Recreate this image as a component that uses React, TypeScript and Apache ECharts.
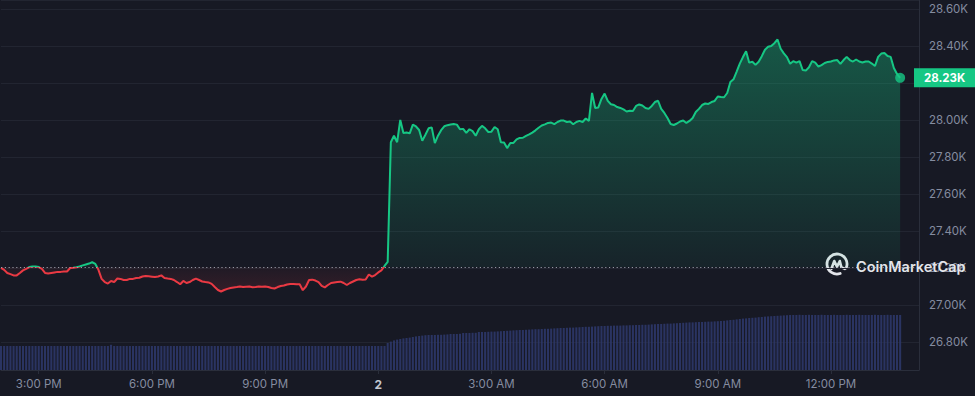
import React, { useEffect, useRef } from 'react';
import * as echarts from 'echarts';

// ---------- data ----------
const BASE_PRICE = 27205; // 24h-ago reference price (dotted line)
const START_MINUTE = 14 * 60; // first point: 2:00 PM on day 1
const STEP_MINUTES = 5;
const SLOT_COUNT = 293; // 287 data points + empty slots up to the axis

const prices = [
  27201, 27190, 27173, 27167, 27160, 27160, 27173, 27187, 27195, 27205,
  27208, 27208, 27205, 27195, 27173, 27170, 27173, 27176, 27179, 27179,
  27181, 27181, 27200, 27201, 27204, 27208, 27214, 27219, 27224, 27231,
  27222, 27190, 27141, 27124, 27116, 27130, 27124, 27143, 27141, 27135,
  27135, 27141, 27141, 27146, 27147, 27154, 27157, 27155, 27153, 27151,
  27154, 27160, 27146, 27143, 27141, 27135, 27124, 27112, 27130, 27119,
  27124, 27135, 27143, 27135, 27127, 27124, 27122, 27114, 27097, 27081,
  27073, 27081, 27087, 27092, 27095, 27097, 27100, 27097, 27099, 27100,
  27096, 27097, 27100, 27099, 27100, 27097, 27092, 27089, 27097, 27103,
  27105, 27111, 27114, 27114, 27112, 27112, 27080, 27100, 27135, 27137,
  27132, 27124, 27103, 27095, 27108, 27119, 27122, 27124, 27126, 27119,
  27108, 27119, 27127, 27135, 27139, 27137, 27138, 27165, 27153, 27162,
  27176, 27187, 27211, 27233, 27880, 27915, 27880, 28000, 27930, 27932,
  27928, 27975, 27965, 27946, 27888, 27920, 27955, 27960, 27875, 27915,
  27945, 27966, 27972, 27976, 27978, 27975, 27950, 27952, 27930, 27950,
  27940, 27915, 27950, 27968, 27955, 27935, 27937, 27962, 27950, 27880,
  27878, 27848, 27876, 27876, 27895, 27903, 27904, 27914, 27922, 27932,
  27944, 27958, 27970, 27976, 27984, 27986, 27978, 27989, 27997, 27997,
  27989, 27992, 27977, 27989, 27995, 27989, 28008, 27995, 28146, 28065,
  28068, 28114, 28143, 28103, 28085, 28081, 28070, 28065, 28057, 28046,
  28050, 28049, 28076, 28084, 28078, 28065, 28060, 28076, 28097, 28104,
  28060, 28038, 28011, 27978, 27973, 27981, 27992, 27997, 27984, 27995,
  28011, 28043, 28060, 28081, 28089, 28087, 28097, 28103, 28127, 28124,
  28123, 28146, 28205, 28220, 28262, 28305, 28340, 28372, 28310, 28315,
  28298, 28315, 28345, 28380, 28396, 28400, 28415, 28435, 28385, 28360,
  28340, 28304, 28318, 28310, 28318, 28270, 28267, 28285, 28318, 28310,
  28289, 28297, 28308, 28314, 28316, 28322, 28324, 28303, 28324, 28341,
  28324, 28316, 28327, 28316, 28311, 28316, 28316, 28305, 28292, 28341,
  28359, 28362, 28346, 28341, 28281, 28249, 28228,
];

// 24h volume (billions USD)
const volumes = [
  6.0, 6.0, 6.0, 6.0, 6.0, 6.0, 6.0, 6.0, 6.0, 6.0,
  6.0, 6.0, 6.0, 6.0, 6.0, 6.0, 6.0, 6.0, 6.0, 6.0,
  6.0, 6.0, 6.0, 6.0, 6.0, 6.0, 6.0, 6.0, 6.0, 6.0,
  6.0, 6.0, 6.0, 6.0, 6.0, 6.3, 6.0, 6.0, 6.0, 6.0,
  6.0, 6.0, 6.0, 6.0, 6.0, 6.0, 6.0, 6.0, 6.0, 6.0,
  6.0, 6.0, 6.0, 6.0, 6.0, 6.0, 6.0, 6.0, 6.0, 6.0,
  6.0, 6.0, 6.0, 6.0, 6.0, 6.0, 6.0, 6.0, 6.0, 6.0,
  6.0, 6.0, 6.0, 6.0, 6.0, 6.0, 6.0, 6.0, 6.0, 6.0,
  6.0, 6.0, 6.0, 6.0, 6.0, 6.0, 6.0, 6.0, 6.0, 6.0,
  6.0, 6.0, 6.0, 6.0, 6.0, 6.0, 6.0, 6.0, 6.0, 6.0,
  6.0, 6.0, 6.0, 6.0, 6.0, 6.0, 6.0, 6.0, 6.0, 6.0,
  6.0, 6.0, 6.0, 6.0, 6.0, 6.0, 6.0, 6.0, 6.0, 6.0,
  6.0, 6.0, 6.0, 6.75, 7.1, 7.4, 7.6, 7.75, 7.9, 8.0,
  8.1, 8.25, 8.4, 8.5, 8.6, 8.7, 8.75, 8.75, 8.75, 8.8,
  8.8, 8.85, 8.9, 9.0, 9.0, 9.0, 9.05, 9.25, 9.25, 9.25,
  9.3, 9.3, 9.5, 9.5, 9.5, 9.55, 9.6, 9.6, 9.65, 9.7,
  9.75, 9.8, 9.85, 9.9, 9.95, 10.0, 10.0, 10.05, 10.1, 10.15,
  10.2, 10.2, 10.25, 10.3, 10.3, 10.35, 10.4, 10.45, 10.5, 10.5,
  10.55, 10.6, 10.6, 10.65, 10.7, 10.75, 10.8, 10.8, 10.85, 10.9,
  10.95, 11.0, 11.0, 11.05, 11.05, 11.1, 11.1, 11.1, 11.15, 11.15,
  11.2, 11.2, 11.25, 11.25, 11.3, 11.3, 11.35, 11.4, 11.45, 11.5,
  11.5, 11.55, 11.6, 11.6, 11.65, 11.7, 11.75, 11.8, 11.85, 11.9,
  11.9, 11.95, 12.0, 12.0, 12.05, 12.1, 12.1, 12.15, 12.2, 12.25,
  12.3, 12.4, 12.5, 12.55, 12.65, 12.75, 12.85, 12.9, 13.0, 13.05,
  13.1, 13.2, 13.25, 13.35, 13.4, 13.45, 13.5, 13.55, 13.6, 13.65,
  13.7, 13.75, 13.75, 13.75, 13.8, 13.75, 13.75, 13.8, 13.75, 13.75,
  13.75, 13.8, 13.75, 13.75, 13.75, 13.8, 13.75, 13.75, 13.75, 13.8,
  13.75, 13.75, 13.75, 13.8, 13.75, 13.75, 13.75, 13.75, 13.8, 13.75,
  13.75, 13.75, 13.8, 13.75, 13.75, 13.75, 13.75,
];

const xTickTimes = ['1 15:00', '1 18:00', '1 21:00', '2 00:00', '2 03:00', '2 06:00', '2 09:00', '2 12:00'];
const xTickLabels = ['3:00 PM', '6:00 PM', '9:00 PM', '2', '3:00 AM', '6:00 AM', '9:00 AM', '12:00 PM'];
const yTickValues = [26800, 27000, 27200, 27400, 27600, 27800, 28000, 28200, 28400, 28600];

// ---------- style ----------
const BG = '#171924';
const GREEN = '#16c784';
const RED = '#ea3943';
const GRID_LINE = '#222531';
const AXIS_LINE = '#2a2e3b';
const LABEL = '#858ca0';
const FONT = 'Inter, "Noto Sans", sans-serif';
const Y_MIN = 26648.6;
const Y_MAX = 28648.6;

const pad = (n: number) => (n < 10 ? '0' + n : '' + n);
const categories: string[] = [];
for (let i = 0; i < SLOT_COUNT; i++) {
  const m = START_MINUTE + i * STEP_MINUTES;
  const day = m >= 1440 ? 2 : 1;
  const mm = m % 1440;
  categories.push(`${day} ${pad(Math.floor(mm / 60))}:${pad(mm % 60)}`);
}

export default function App() {
  const ref = useRef<HTMLDivElement>(null);
  useEffect(() => {
    document.body.style.margin = '0';
    document.body.style.background = BG;
    const chart = echarts.init(ref.current!, undefined, { renderer: 'svg' });
    const last = prices[prices.length - 1];
    const pMax = Math.max(...prices);
    const pMin = Math.min(...prices);
    const baseOffset = (pMax - BASE_PRICE) / (pMax - pMin);
    const isTick = (_i: number, v: string) => xTickTimes.indexOf(v) >= 0;

    const option: any = {
      animation: false,
      backgroundColor: BG,
      textStyle: { fontFamily: FONT },
      grid: [
        { left: 1, right: 56, top: 0, bottom: 26 },
        { left: 1, right: 56, top: 290, bottom: 26 },
      ],
      xAxis: [
        {
          type: 'category', gridIndex: 0, data: categories, boundaryGap: false,
          show: false,
        },
        {
          type: 'category', gridIndex: 1, data: categories, boundaryGap: false,
          axisLine: { show: true, lineStyle: { color: AXIS_LINE, width: 1 } },
          axisTick: { show: true, interval: isTick, length: 4, lineStyle: { color: AXIS_LINE } },
          axisLabel: {
            interval: isTick,
            margin: 8,
            color: LABEL,
            fontSize: 11.5,
            fontFamily: FONT,
            formatter: (v: string) => {
              const k = xTickTimes.indexOf(v);
              if (k < 0) return '';
              const t = xTickLabels[k];
              return t === '2' ? '{d|2}' : t;
            },
            rich: { d: { fontWeight: 'bold', color: '#c4c8d2', fontSize: 12, fontFamily: FONT } },
          },
          splitLine: { show: false },
        },
      ],
      yAxis: [
        {
          type: 'value', gridIndex: 0, position: 'right', min: Y_MIN, max: Y_MAX, splitNumber: 10,
          axisLine: { show: true, lineStyle: { color: AXIS_LINE } },
          axisTick: { show: false },
          splitLine: { show: true, lineStyle: { color: GRID_LINE, width: 1 } },
          axisLabel: {
            showMinLabel: false, showMaxLabel: false,
            margin: 10, color: LABEL, fontSize: 11.5, fontFamily: FONT,
            formatter: (v: number) => {
              const r = Math.round(v);
              if (yTickValues.indexOf(r) < 0 || Math.abs(v - r) > 0.01) return '';
              // the current-price tag covers the tick label next to it
              if (Math.abs(r - last) < 100) return '';
              return (r / 1000).toFixed(2) + 'K';
            },
          },
        },
        {
          type: 'value', gridIndex: 1, min: 0, max: 20, show: false,
        },
      ],
      visualMap: [
        {
          type: 'piecewise', show: false, seriesIndex: 0, dimension: 1,
          pieces: [
            { gte: 20000, lt: BASE_PRICE, color: RED },
            { gte: BASE_PRICE, lte: 40000, color: GREEN },
          ],
          outOfRange: { color: GREEN },
        },
      ],
      series: [
        {
          type: 'line', xAxisIndex: 0, yAxisIndex: 0, data: prices,
          showSymbol: false, symbol: 'none', z: 3,
          lineStyle: { width: 2 },
          areaStyle: {
            origin: BASE_PRICE,
            opacity: 1,
            color: new echarts.graphic.LinearGradient(0, 0, 0, 1, [
              { offset: 0, color: 'rgba(22,199,132,0.36)' },
              { offset: baseOffset - 0.001, color: 'rgba(22,199,132,0.06)' },
              { offset: baseOffset, color: 'rgba(234,57,67,0.04)' },
              { offset: 1, color: 'rgba(234,57,67,0.14)' },
            ]),
          },
          markLine: {
            silent: true, symbol: ['none', 'none'], animation: false,
            data: [
              {
                yAxis: BASE_PRICE,
                lineStyle: { color: '#a3a8b4', type: [1.2, 2.6], width: 1, opacity: 0.9 },
                label: { show: false },
              },
            ],
          },
        },
        {
          type: 'line', xAxisIndex: 0, yAxisIndex: 0, data: [],
          silent: true, z: 6,
          markLine: {
            silent: true, symbol: ['none', 'none'], animation: false,
            data: [
              {
                yAxis: last,
                lineStyle: { color: 'rgba(0,0,0,0)', width: 1, type: 'solid' },
                label: {
                  show: true, position: 'end', distance: -5,
                  formatter: () => (last / 1000).toFixed(2) + 'K',
                  backgroundColor: GREEN, color: '#ffffff', fontWeight: 'bold',
                  fontSize: 11.5, fontFamily: FONT, padding: [4, 16, 3, 10],
                },
              },
            ],
          },
        },
        {
          type: 'scatter', xAxisIndex: 0, yAxisIndex: 0,
          data: [[prices.length - 1, last]],
          symbol: 'circle', symbolSize: 10, z: 5,
          itemStyle: { color: GREEN },
        },
        {
          type: 'bar', xAxisIndex: 1, yAxisIndex: 1, data: volumes,
          barCategoryGap: '35%', z: 1,
          itemStyle: { color: 'rgba(44,54,104,0.92)' },
        },
      ],
      graphic: [
        {
          type: 'group', x: 826, y: 253, z: 100,
          children: [
            {
              type: 'arc',
              shape: { cx: 11, cy: 11, r: 10, startAngle: 1.25, endAngle: 0.4 + Math.PI * 2, clockwise: true },
              style: { stroke: '#e3e5ea', lineWidth: 2.8, fill: 'none', lineCap: 'round' },
            },
            {
              type: 'polyline',
              shape: { points: [[5.4, 15.8], [8.3, 8.0], [11, 13.8], [13.8, 8.0], [15.4, 14.4], [18.8, 15.8]] },
              style: { stroke: '#e3e5ea', lineWidth: 2.6, fill: 'none', lineJoin: 'round', lineCap: 'round' },
            },
          ],
        },
        {
          type: 'text', x: 856, y: 266, z: 100,
          style: {
            text: 'CoinMarketCap', fill: '#e3e5ea', font: `600 14.5px ${FONT}`,
            verticalAlign: 'middle', textVerticalAlign: 'middle',
          },
        },
      ],
    };
    chart.setOption(option);
    return () => chart.dispose();
  }, []);
  return <div ref={ref} style={{ width: 975, height: 396, background: BG }} />;
}
